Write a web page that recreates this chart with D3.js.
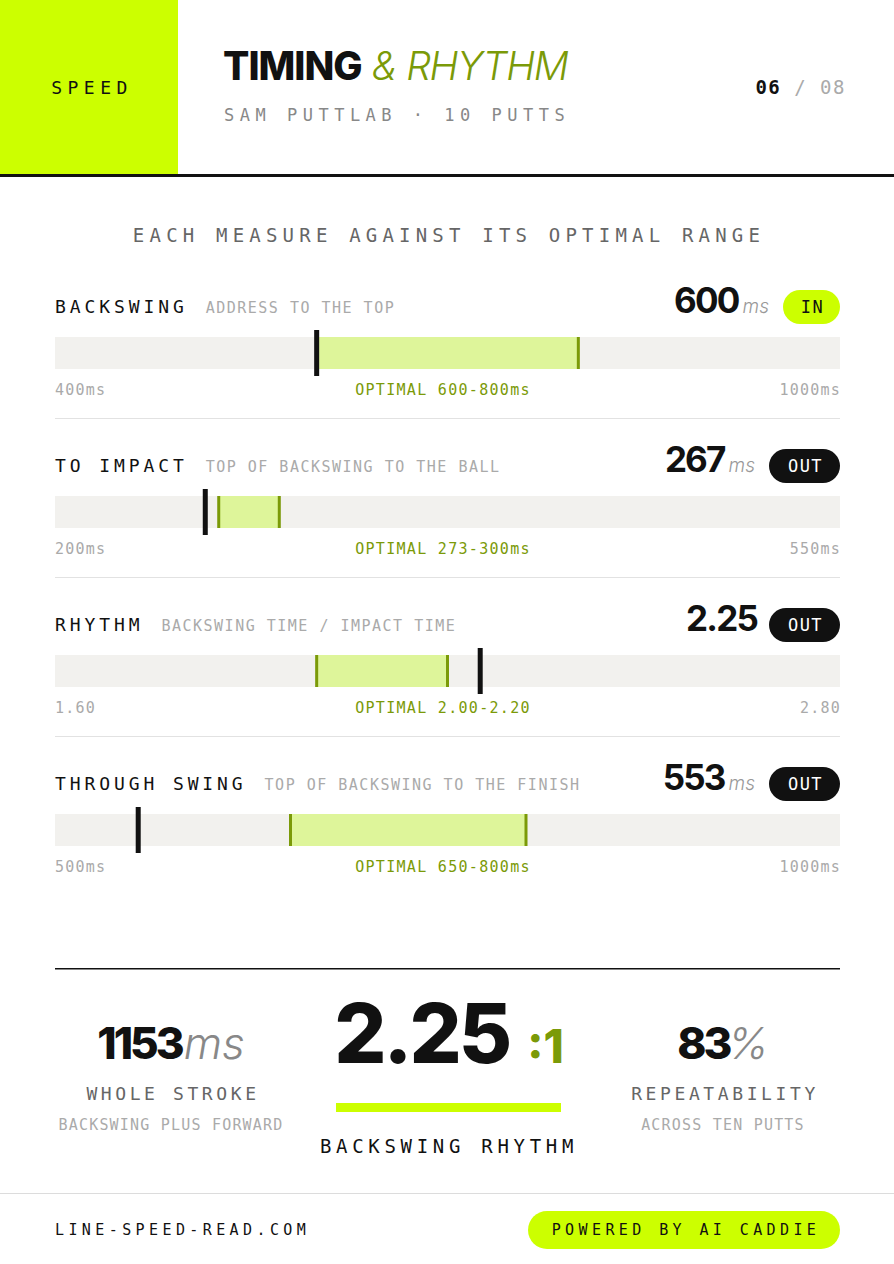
<!DOCTYPE html>
<html><head><meta charset="utf-8">
<script src="https://cdn.jsdelivr.net/npm/d3@7/dist/d3.min.js"></script>
<style>
html,body{margin:0;padding:0;background:#fff;}
svg{display:block;}
.mono{font-family:"DejaVu Sans Mono",monospace;}
.sans{font-family:Inter,"Noto Sans",sans-serif;}
</style></head>
<body>
<svg id="c" width="894" height="1264"></svg>
<script>
// ---- data ----
const measures = ["BACKSWING", "TO IMPACT", "RHYTHM", "THROUGH SWING"];
const descriptions = ["ADDRESS TO THE TOP", "TOP OF BACKSWING TO THE BALL", "BACKSWING TIME / IMPACT TIME", "TOP OF BACKSWING TO THE FINISH"];
const values = [600, 267, 2.25, 553];
const valueLabels = ["600", "267", "2.25", "553"];
const units = ["ms", "ms", "", "ms"];
const domainMin = [400, 200, 1.6, 500];
const domainMax = [1000, 550, 2.8, 1000];
const optimalLow = [600, 273, 2.0, 650];
const optimalHigh = [800, 300, 2.2, 800];
const status = ["IN", "OUT", "OUT", "OUT"];
const minLabels = ["400ms", "200ms", "1.60", "500ms"];
const maxLabels = ["1000ms", "550ms", "2.80", "1000ms"];
const optimalLabels = ["OPTIMAL 600-800ms", "OPTIMAL 273-300ms", "OPTIMAL 2.00-2.20", "OPTIMAL 650-800ms"];
const summaryValues = ["1153", "2.25", "83"];
const summaryUnits = ["ms", ":1", "%"];
const summaryTitles = ["WHOLE STROKE", "BACKSWING RHYTHM", "REPEATABILITY"];
const summarySubs = ["BACKSWING PLUS FORWARD", "", "ACROSS TEN PUTTS"];

const LIME = "#ccff00", OLIVE = "#7b9a08", PALE = "#def59a", TRACK = "#f2f1ee";
const svg = d3.select("#c");

// header
svg.append("rect").attr("x",0).attr("y",0).attr("width",178).attr("height",174).attr("fill",LIME);
svg.append("text").attr("class","mono").attr("x",92).attr("y",94).attr("text-anchor","middle")
  .attr("font-size",18).attr("letter-spacing",5.5).attr("fill","#111").text("SPEED");
svg.append("rect").attr("x",0).attr("y",174).attr("width",894).attr("height",3).attr("fill","#111");
const title = svg.append("text").attr("class","sans").attr("x",223).attr("y",80).attr("font-size",39);
title.append("tspan").attr("font-weight",800).attr("letter-spacing",-1).attr("fill","#111").text("TIMING");
title.append("tspan").attr("font-weight",300).attr("font-style","italic").attr("fill",OLIVE).attr("dx",10).attr("letter-spacing",-1.3).text("& RHYTHM");
svg.append("text").attr("class","mono").attr("x",224).attr("y",121).attr("font-size",17).attr("letter-spacing",5.5)
  .attr("fill","#888").text("SAM PUTTLAB · 10 PUTTS");
const pg = svg.append("text").attr("class","mono").attr("x",846).attr("y",94).attr("text-anchor","end").attr("font-size",19).attr("letter-spacing",1.5);
pg.append("tspan").attr("font-weight",700).attr("fill","#111").text("06");
pg.append("tspan").attr("fill","#aaa").text(" / 08");

svg.append("text").attr("class","mono").attr("x",449).attr("y",242).attr("text-anchor","middle")
  .attr("font-size",19).attr("letter-spacing",5.2).attr("fill","#666").text("EACH MEASURE AGAINST ITS OPTIMAL RANGE");

// rows
const X0 = 55, X1 = 840;
measures.forEach((m, i) => {
  const base = 313 + i * 159;
  const g = svg.append("g");
  const x = d3.scaleLinear().domain([domainMin[i], domainMax[i]]).range([X0, X1]);
  const lab = g.append("text").attr("class","mono").attr("x",X0).attr("y",base).attr("font-size",18)
    .attr("letter-spacing",3.9).attr("fill","#111").text(m);
  const lw = lab.node().getComputedTextLength();
  g.append("text").attr("class","mono").attr("x",X0 + lw + 18).attr("y",base).attr("font-size",15)
    .attr("letter-spacing",1.5).attr("fill","#aaa").text(descriptions[i]);
  // badge
  const bw = status[i] === "IN" ? 57 : 71;
  const inn = status[i] === "IN";
  g.append("rect").attr("x",X1 - bw).attr("y",base - 23).attr("width",bw).attr("height",34).attr("rx",17)
    .attr("fill", inn ? LIME : "#111");
  g.append("text").attr("class","mono").attr("x",X1 - bw/2 + 1).attr("y",base).attr("text-anchor","middle")
    .attr("font-size",17).attr("letter-spacing",1.5).attr("fill", inn ? "#111" : "#fff").text(status[i]);
  // value
  let right = X1 - bw - 14;
  if (units[i]) {
    const u = g.append("text").attr("class","sans").attr("x",right).attr("y",base).attr("text-anchor","end")
      .attr("font-size",19).attr("font-style","italic").attr("font-weight",300).attr("fill","#999").text(units[i]);
    right -= u.node().getComputedTextLength() + 4;
  } else { right += 2; }
  g.append("text").attr("class","sans").attr("x",right).attr("y",base).attr("text-anchor","end")
    .attr("font-size",35).attr("font-weight",700).attr("letter-spacing",-1.8).attr("fill","#111").text(valueLabels[i]);
  // track
  const by = base + 24, bh = 32;
  g.append("rect").attr("x",X0).attr("y",by).attr("width",X1 - X0).attr("height",bh).attr("fill",TRACK);
  g.append("rect").attr("x",x(optimalLow[i])).attr("y",by).attr("width",x(optimalHigh[i]) - x(optimalLow[i]))
    .attr("height",bh).attr("fill",PALE);
  [optimalLow[i], optimalHigh[i]].forEach(v => {
    g.append("rect").attr("x",x(v) - 1.5).attr("y",by).attr("width",3).attr("height",bh).attr("fill",OLIVE);
  });
  g.append("rect").attr("x",x(values[i]) - 2.5).attr("y",by - 7).attr("width",5).attr("height",bh + 14).attr("fill","#111");
  // tick labels
  const ty = base + 82;
  g.append("text").attr("class","mono").attr("x",X0).attr("y",ty).attr("font-size",15).attr("letter-spacing",1.2)
    .attr("fill","#aaa").text(minLabels[i]);
  g.append("text").attr("class","mono").attr("x",X1 + 1).attr("y",ty).attr("text-anchor","end").attr("font-size",15)
    .attr("letter-spacing",1.2).attr("fill","#aaa").text(maxLabels[i]);
  g.append("text").attr("class","mono").attr("x",443).attr("y",ty).attr("text-anchor","middle").attr("font-size",15)
    .attr("letter-spacing",1.3).attr("fill",OLIVE).text(optimalLabels[i]);
  if (i < measures.length - 1) {
    g.append("rect").attr("x",X0).attr("y",base + 105).attr("width",X1 - X0).attr("height",1).attr("fill","#e2e2e2");
  }
});

// summary
svg.append("rect").attr("x",X0).attr("y",968).attr("width",X1 - X0).attr("height",1.5).attr("fill","#111");
const cx = [171, 447, 723];
[0, 2].forEach(j => {
  const t = svg.append("text").attr("class","sans").attr("x",cx[j]).attr("y",1059).attr("text-anchor","middle").attr("font-size",44);
  t.append("tspan").attr("font-weight",800).attr("letter-spacing",-3).attr("fill","#111").text(summaryValues[j]);
  t.append("tspan").attr("font-weight",300).attr("font-style","italic").attr("fill","#888").attr("dx",j === 2 ? -2 : 2).text(summaryUnits[j]);
  svg.append("text").attr("class","mono").attr("x",cx[j] + 2).attr("y",1100).attr("text-anchor","middle").attr("font-size",18)
    .attr("letter-spacing",3.6).attr("fill","#666").text(summaryTitles[j]);
  svg.append("text").attr("class","mono").attr("x",cx[j]).attr("y",1130).attr("text-anchor","middle").attr("font-size",15)
    .attr("letter-spacing",1.2).attr("fill","#aaa").text(summarySubs[j]);
});
const big = svg.append("text").attr("class","sans").attr("x",449).attr("y",1063).attr("text-anchor","middle");
big.append("tspan").attr("font-size",82).attr("font-weight",800).attr("letter-spacing",-3).attr("fill","#111").text(summaryValues[1]);
big.append("tspan").attr("font-size",46).attr("font-weight",800).attr("fill",OLIVE).attr("dx",18).text(summaryUnits[1]);
svg.append("rect").attr("x",336).attr("y",1103).attr("width",225).attr("height",9).attr("fill",LIME);
svg.append("text").attr("class","mono").attr("x",449).attr("y",1153).attr("text-anchor","middle").attr("font-size",19)
  .attr("letter-spacing",4.7).attr("fill","#111").text(summaryTitles[1]);

// footer
svg.append("rect").attr("x",0).attr("y",1193).attr("width",894).attr("height",1).attr("fill","#dcdcdc");
svg.append("text").attr("class","mono").attr("x",X0).attr("y",1235).attr("font-size",15).attr("letter-spacing",4.4)
  .attr("fill","#111").text("LINE-SPEED-READ.COM");
svg.append("rect").attr("x",528).attr("y",1211).attr("width",312).attr("height",38).attr("rx",19).attr("fill",LIME);
svg.append("text").attr("class","mono").attr("x",686).attr("y",1235).attr("text-anchor","middle").attr("font-size",15)
  .attr("letter-spacing",4.4).attr("fill","#111").text("POWERED BY AI CADDIE");
</script>
</body></html>
